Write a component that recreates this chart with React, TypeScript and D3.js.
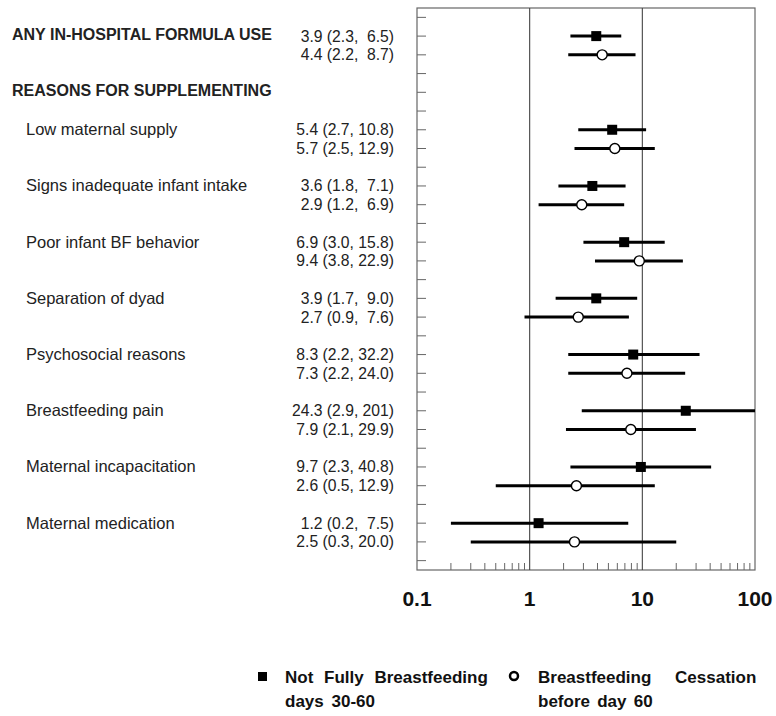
import React from "react";
import * as d3 from "d3";

// groups shown down the left side (first one is the overall measure)
const groups = [
  "ANY IN-HOSPITAL FORMULA USE",
  "Low maternal supply",
  "Signs inadequate infant intake",
  "Poor infant BF behavior",
  "Separation of dyad",
  "Psychosocial reasons",
  "Breastfeeding pain",
  "Maternal incapacitation",
  "Maternal medication",
];
const sectionHeader = "REASONS FOR SUPPLEMENTING";

// Not fully breastfeeding days 30-60 (filled squares)
const notFullyOR = [3.9, 5.4, 3.6, 6.9, 3.9, 8.3, 24.3, 9.7, 1.2];
const notFullyLo = [2.3, 2.7, 1.8, 3.0, 1.7, 2.2, 2.9, 2.3, 0.2];
const notFullyHi = [6.5, 10.8, 7.1, 15.8, 9.0, 32.2, 201, 40.8, 7.5];

// Breastfeeding cessation before day 60 (open circles)
const cessationOR = [4.4, 5.7, 2.9, 9.4, 2.7, 7.3, 7.9, 2.6, 2.5];
const cessationLo = [2.2, 2.5, 1.2, 3.8, 0.9, 2.2, 2.1, 0.5, 0.3];
const cessationHi = [8.7, 12.9, 6.9, 22.9, 7.6, 24.0, 29.9, 12.9, 20.0];

const axisLabels = [0.1, 1, 10, 100];

const FONT = "Arial, 'Liberation Sans', sans-serif";

const fmt = (or: number, lo: number, hi: number) => {
  const h = hi >= 100 ? String(hi) : hi.toFixed(1);
  const pad = hi < 10 ? "  " : " ";
  return `${or.toFixed(1)} (${lo.toFixed(1)},${pad}${h})`;
};

const App = () => {
  const width = 776;
  const height = 716;
  const left = 417;
  const right = 755;
  const top = 8;
  const bottom = 570;

  const x = d3.scaleLog().domain([0.1, 100]).range([left, right]);
  const y = d3.scaleLinear().domain([-0.5, 29.5]).range([top, bottom]);

  // row layout: overall measure on row 1, section header on row 4, then pairs every 3 rows
  const rowOf = (i: number) => (i === 0 ? 1 : 3 + 3 * i);
  const tickRows = d3.range(0, 30);
  const minorTicks = x.ticks().filter((t) => Math.abs(Math.log10(t) - Math.round(Math.log10(t))) > 1e-6);

  const series = [
    { or: notFullyOR, lo: notFullyLo, hi: notFullyHi, offset: 0, kind: "square" },
    { or: cessationOR, lo: cessationLo, hi: cessationHi, offset: 1, kind: "circle" },
  ];

  const clampX = (v: number) => x(Math.min(100, Math.max(0.1, v)));

  return (
    <div style={{ position: "absolute", left: 0, top: 0 }}>
      <svg width={width} height={height} style={{ display: "block", background: "#fff" }} fontFamily={FONT}>
        {/* frame */}
        <rect x={left} y={top} width={right - left} height={bottom - top} fill="none" stroke="#666" strokeWidth={1.2} />
        {[1, 10].map((v) => (
          <line key={v} x1={x(v)} x2={x(v)} y1={top} y2={bottom} stroke="#444" strokeWidth={1.1} />
        ))}
        {/* left ticks */}
        {tickRows.map((r) => (
          <line key={r} x1={left} x2={left + 9} y1={y(r)} y2={y(r)} stroke="#666" strokeWidth={1} />
        ))}
        {/* bottom minor ticks */}
        {minorTicks.map((t) => (
          <line key={t} x1={x(t)} x2={x(t)} y1={bottom} y2={bottom - 7} stroke="#666" strokeWidth={1} />
        ))}
        {axisLabels.map((v) => (
          <text key={v} x={x(v)} y={606} textAnchor="middle" fontSize={21} fontWeight="bold" fill="#111">
            {v}
          </text>
        ))}

        {/* left labels */}
        {groups.map((g, i) => (
          <text
            key={g}
            x={i === 0 ? 12 : 26}
            y={y(rowOf(i)) + (i === 0 ? 3.5 : 5.5)}
            fontSize={i === 0 ? 16 : 16.5}
            fontWeight={i === 0 ? "bold" : "normal"}
            fill="#222"
          >
            {g}
          </text>
        ))}
        <text x={12} y={y(4) + 3.5} fontSize={16} fontWeight="bold" fill="#222">
          {sectionHeader}
        </text>

        {/* estimates text + intervals */}
        {series.map((s) =>
          groups.map((g, i) => {
            const cy = y(rowOf(i) + s.offset);
            return (
              <g key={g + s.kind}>
                <text
                  x={394}
                  y={cy + 5.5}
                  textAnchor="end"
                  fontSize={15.7}
                  fill="#222"
                  style={{ whiteSpace: "pre" }}
                >
                  {fmt(s.or[i], s.lo[i], s.hi[i])}
                </text>
                <line x1={clampX(s.lo[i])} x2={clampX(s.hi[i])} y1={cy} y2={cy} stroke="#000" strokeWidth={3} />
                {s.kind === "square" ? (
                  <rect x={x(s.or[i]) - 5} y={cy - 5} width={10} height={10} fill="#000" />
                ) : (
                  <circle cx={x(s.or[i])} cy={cy} r={5} fill="#fff" stroke="#000" strokeWidth={1.4} />
                )}
              </g>
            );
          })
        )}

        {/* legend */}
        <rect x={258} y={672} width={9} height={9} fill="#000" />
        <text x={285} y={683} fontSize={17} fontWeight="bold" fill="#111" wordSpacing={6}>
          Not Fully Breastfeeding
        </text>
        <text x={285} y={707} fontSize={17} fontWeight="bold" fill="#111" wordSpacing={3}>
          days 30-60
        </text>
        <circle cx={514} cy={676} r={4} fill="#fff" stroke="#000" strokeWidth={2.5} />
        <text x={538} y={683} fontSize={17} fontWeight="bold" fill="#111" wordSpacing={19}>
          Breastfeeding Cessation
        </text>
        <text x={538} y={707} fontSize={17} fontWeight="bold" fill="#111" wordSpacing={2.5}>
          before day 60
        </text>
      </svg>
    </div>
  );
};

export default App;
